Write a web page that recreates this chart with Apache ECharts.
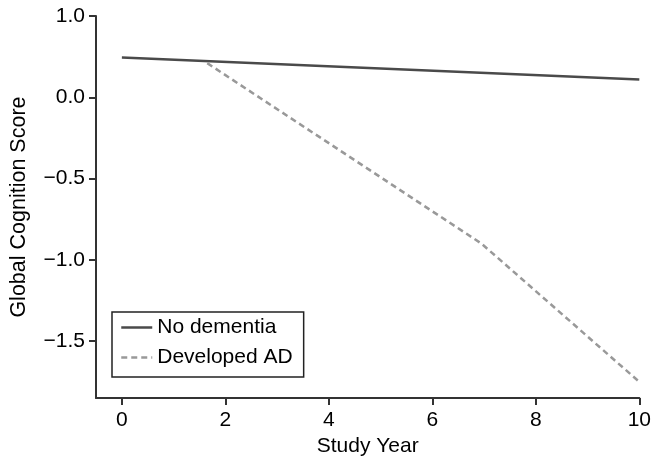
<!DOCTYPE html>
<html>
<head>
<meta charset="utf-8">
<script src="https://cdn.jsdelivr.net/npm/echarts@6/dist/echarts.min.js"></script>
<style>html,body{margin:0;padding:0;background:#fff}#c{width:654px;height:462px}</style>
</head>
<body>
<div id="c"></div>
<script>
// Data
const seriesNames = ['No dementia', 'Developed AD'];
const noDementiaX = [0, 10];
const noDementiaY = [0.245, 0.11];
const developedADX = [1.65, 6.95, 10];
const developedADY = [0.21, -0.9, -1.75];
const xTickValues = [0, 2, 4, 6, 8, 10];
const yTickValues = [-1.5, -1.0, -0.5, 0.0, 0.5];
const yTickLabels = ['\u22121.5', '\u22121.0', '\u22120.5', '0.0', '1.0'];

const font = 'Liberation Sans, Arial, Helvetica, sans-serif';
const chart = echarts.init(document.getElementById('c'));
const zip = (xs, ys) => xs.map((x, i) => [x, ys[i]]);

chart.setOption({
  animation: false,
  backgroundColor: '#fff',
  textStyle: { fontFamily: font },
  grid: { left: 93, right: 12, top: 16, bottom: 62, containLabel: false },
  xAxis: {
    type: 'value', min: -0.5, max: 10,
    name: 'Study Year', nameLocation: 'middle', nameGap: 30,
    nameTextStyle: { fontSize: 21, color: '#000', fontFamily: font },
    axisLine: { show: true, onZero: false, lineStyle: { color: '#333', width: 2 } },
    axisTick: { show: true, length: 7, lineStyle: { color: '#333', width: 2 }, customValues: xTickValues },
    axisLabel: { fontSize: 21, color: '#000', margin: 12, fontFamily: font, customValues: xTickValues },
    splitLine: { show: false }
  },
  yAxis: {
    type: 'value', min: -1.85, max: 0.5,
    name: 'Global Cognition Score', nameLocation: 'middle', nameGap: 66, nameRotate: 90,
    nameTextStyle: { fontSize: 21.5, color: '#000', fontFamily: font },
    axisLine: { show: true, onZero: false, lineStyle: { color: '#333', width: 2 } },
    axisTick: { show: true, length: 7, lineStyle: { color: '#333', width: 2 }, customValues: yTickValues },
    axisLabel: {
      fontSize: 21, color: '#000', margin: 11, fontFamily: font, customValues: yTickValues,
      formatter: v => { const i = yTickValues.findIndex(t => Math.abs(t - v) < 1e-9); return i >= 0 ? yTickLabels[i] : ''; }
    },
    splitLine: { show: false }
  },
  legend: {
    show: true,
    orient: 'vertical', left: 112, top: 312,
    data: seriesNames,
    itemWidth: 31, itemHeight: 14, itemGap: 9,
    padding: [5, 11, 9, 8],
    borderColor: '#222', borderWidth: 1.5, borderRadius: 0,
    itemStyle: { opacity: 0 },
    lineStyle: { width: 2.5 },
    textStyle: { fontSize: 21, color: '#000', fontFamily: font }
  },
  series: [
    {
      name: seriesNames[0], type: 'line', data: zip(noDementiaX, noDementiaY),
      symbol: 'none', lineStyle: { color: '#4a4a4a', width: 2.5 }, itemStyle: { color: '#4a4a4a' }
    },
    {
      name: seriesNames[1], type: 'line', data: zip(developedADX, developedADY),
      symbol: 'none', lineStyle: { color: '#999', width: 2.5, type: [6, 4] }, itemStyle: { color: '#999' }
    }
  ]
});
</script>
</body>
</html>
